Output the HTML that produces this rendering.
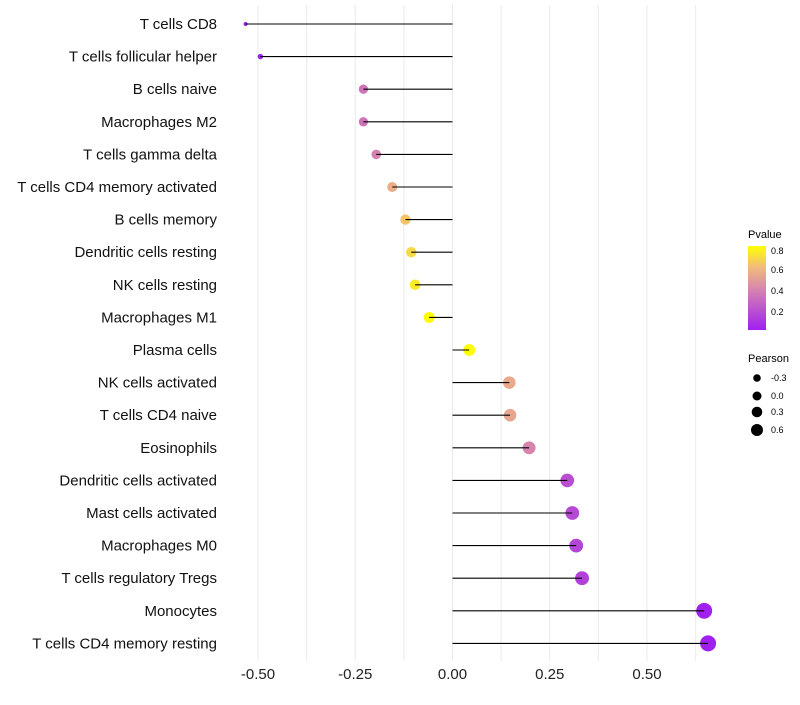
<!DOCTYPE html>
<html><head><meta charset="utf-8"><style>
body{margin:0;background:#fff;}
svg text{font-family:"Liberation Sans",sans-serif;}
</style></head><body>
<svg id="chart" width="800" height="700">
<defs>
<linearGradient id="pgrad" x1="0" y1="1" x2="0" y2="0">
<stop offset="0" stop-color="#A020F0"/><stop offset="0.5" stop-color="#D888AC"/><stop offset="0.75" stop-color="#F2BC7A"/><stop offset="1" stop-color="#FFFF00"/>
</linearGradient>
</defs>
<g id="grid"></g><g id="marks"></g><g id="labels"></g>
<g>
<text x="748" y="238" font-size="11">Pvalue</text>
<rect x="748" y="246" width="18" height="84" fill="url(#pgrad)"/>
<text x="771" y="254" font-size="9">0.8</text>
<text x="771" y="273" font-size="9">0.6</text>
<text x="771" y="294" font-size="9">0.4</text>
<text x="771" y="315" font-size="9">0.2</text>
</g>
<g>
<text x="748" y="362" font-size="11">Pearson</text>
<circle cx="757" cy="378" r="3.8" fill="#000"/>
<text x="771" y="381" font-size="9">-0.3</text>
<circle cx="757" cy="396" r="4.5" fill="#000"/>
<text x="771" y="399" font-size="9">0.0</text>
<circle cx="757" cy="412" r="5.3" fill="#000"/>
<text x="771" y="415" font-size="9">0.3</text>
<circle cx="757" cy="430" r="6" fill="#000"/>
<text x="771" y="433" font-size="9">0.6</text>
</g>
</svg>
<script>
const categories=["T cells CD8","T cells follicular helper","B cells naive","Macrophages M2","T cells gamma delta","T cells CD4 memory activated","B cells memory","Dendritic cells resting","NK cells resting","Macrophages M1","Plasma cells","NK cells activated","T cells CD4 naive","Eosinophils","Dendritic cells activated","Mast cells activated","Macrophages M0","T cells regulatory  Tregs","Monocytes","T cells CD4 memory resting"];
const pearson=[-0.532,-0.494,-0.229,-0.229,-0.196,-0.155,-0.121,-0.106,-0.096,-0.06,0.043,0.146,0.148,0.197,0.295,0.308,0.318,0.333,0.647,0.657];
const pvalues=[0.02,0.03,0.35,0.35,0.4,0.58,0.66,0.72,0.78,0.85,0.86,0.56,0.55,0.42,0.2,0.18,0.17,0.15,0.01,0.01];
const ticks=[-0.5,-0.25,0,0.25,0.5];
const tickLabels=["-0.50","-0.25","0.00","0.25","0.50"];
const NS="http://www.w3.org/2000/svg";
const xs=v=>452.5+v*389;
const ys=i=>24+i*32.6;
const pmin=0.02,pmax=0.84;
function mix(a,b,t){return a.map((c,k)=>Math.round(c+(b[k]-c)*t));}
const stops=[[0,[160,32,240]],[0.5,[216,136,172]],[0.75,[242,188,122]],[1,[255,255,0]]];
function col(p){let t=Math.max(0,Math.min(1,(p-pmin)/(pmax-pmin)));for(let k=1;k<stops.length;k++){if(t<=stops[k][0]){const a=stops[k-1],b=stops[k];const c=mix(a[1],b[1],(t-a[0])/(b[0]-a[0]));return `rgb(${c})`;}}return "rgb(255,255,0)";}
const vmin=Math.min(...pearson),vmax=Math.max(...pearson);
const rs=v=>2+6*Math.pow((v-vmin)/(vmax-vmin),0.6);
function mk(tag,attrs,parent){const e=document.createElementNS(NS,tag);for(const k in attrs)e.setAttribute(k,attrs[k]);parent.appendChild(e);return e;}
const grid=document.getElementById('grid'),marks=document.getElementById('marks'),labels=document.getElementById('labels');
for(let g=-0.5;g<=0.626;g+=0.125){const x=xs(g);const l=mk('line',{x1:x,x2:x,y1:5,y2:661,stroke:'#ebebeb','stroke-width':1},grid);

}
ticks.forEach((t,i)=>{const tx=mk('text',{x:xs(t),y:679,'font-size':15,'text-anchor':'middle',fill:'#222'},labels);tx.textContent=tickLabels[i];

});
categories.forEach((c,i)=>{const y=ys(i);
const t=mk('text',{x:217,y:y+5,'font-size':15,'text-anchor':'end',fill:'#111'},labels);t.textContent=c;


const pt=mk('circle',{cx:xs(pearson[i]),cy:y,r:rs(pearson[i]),fill:col(pvalues[i])},marks);


const ln=mk('line',{x1:xs(0),x2:xs(pearson[i]),y1:y,y2:y,stroke:'#000','stroke-width':1.1},marks);

});
</script>
</body></html>
